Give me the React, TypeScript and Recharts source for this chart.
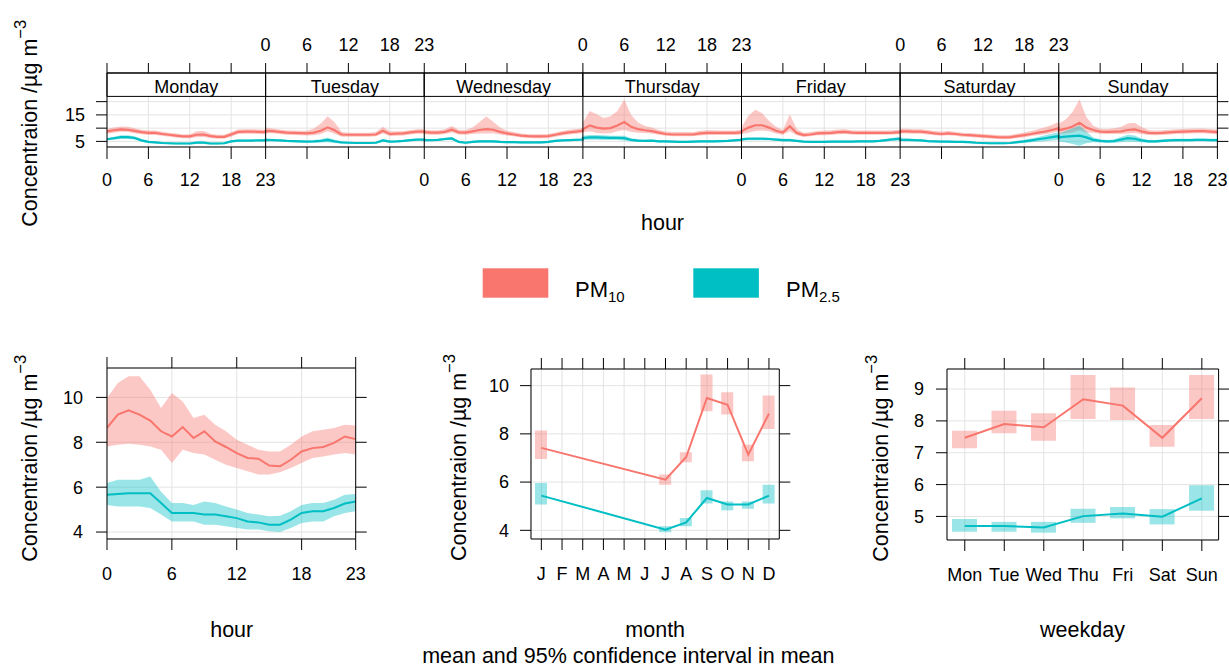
import { ComposedChart, Line, Area, Bar, XAxis, YAxis, CartesianGrid, ReferenceArea, ReferenceLine } from 'recharts';

const FONT = '"Liberation Sans", Arial, Helvetica, sans-serif';
const RED = '#F8766D';
const TEAL = '#00BFC4';
const GRID = '#E3E3E3';

// ---- top panel: hour of day by weekday ----
const days = ['Monday', 'Tuesday', 'Wednesday', 'Thursday', 'Friday', 'Saturday', 'Sunday'];
const hourTicks = [0, 6, 12, 18, 23];

const pm10Day = [
  [8.8, 9.2, 9.5, 9.4, 9.0, 8.5, 8.2, 8.2, 7.8, 7.5, 7.2, 6.9, 6.9, 7.5, 7.6, 7.0, 6.7, 6.7, 7.6, 8.6, 8.7, 8.7, 8.6, 8.5],
  [9.0, 8.9, 8.6, 8.3, 8.2, 8.1, 8.0, 8.3, 9.0, 10.3, 9.2, 7.6, 7.5, 7.5, 7.5, 7.5, 7.6, 9.0, 7.8, 7.9, 8.0, 8.4, 8.7, 8.7],
  [8.5, 8.3, 8.3, 8.6, 9.4, 8.4, 8.3, 8.8, 9.3, 9.6, 9.4, 8.6, 8.0, 7.6, 7.2, 7.0, 6.9, 6.9, 7.0, 7.5, 8.0, 8.4, 8.7, 9.0],
  [9.6, 11.0, 10.2, 9.8, 10.0, 11.0, 12.3, 10.5, 9.6, 9.2, 8.9, 8.3, 7.8, 7.6, 7.6, 7.6, 7.6, 8.0, 8.2, 8.2, 8.2, 8.2, 8.2, 8.4],
  [8.8, 10.2, 11.1, 11.1, 10.2, 9.0, 8.3, 10.7, 8.2, 7.4, 7.6, 8.0, 8.1, 8.2, 8.5, 8.6, 8.3, 8.2, 8.2, 8.2, 8.2, 8.2, 8.3, 8.5],
  [8.8, 8.8, 8.7, 8.7, 8.4, 8.0, 7.8, 8.0, 7.8, 7.5, 7.4, 7.2, 7.0, 6.8, 6.6, 6.5, 6.6, 7.0, 7.4, 7.8, 8.3, 8.7, 9.3, 10.0],
  [9.2, 9.8, 10.6, 12.0, 10.2, 9.3, 8.7, 8.6, 8.7, 8.8, 9.3, 9.5, 8.8, 8.2, 8.1, 8.2, 8.4, 8.6, 8.7, 8.8, 8.9, 8.9, 8.7, 8.5],
];
// distance from mean to upper / lower edge of the 95% band
const pm10DayUp = [
  [1.0, 1.0, 1.1, 1.1, 1.0, 0.9, 0.9, 0.9, 0.8, 0.8, 0.8, 0.7, 0.8, 1.3, 1.3, 0.9, 0.8, 0.8, 0.9, 0.9, 0.9, 0.9, 0.9, 0.9],
  [1.2, 1.0, 0.9, 0.9, 0.9, 0.9, 1.0, 1.6, 2.8, 4.2, 3.0, 1.0, 0.8, 0.8, 0.8, 0.8, 0.9, 1.5, 1.0, 0.9, 0.9, 0.9, 0.9, 0.9],
  [0.9, 0.9, 0.9, 1.0, 1.4, 1.0, 1.0, 1.4, 3.0, 4.8, 3.0, 1.6, 1.0, 0.9, 0.8, 0.8, 0.8, 0.8, 0.8, 0.9, 0.9, 1.0, 1.0, 1.0],
  [2.5, 5.5, 5.0, 4.0, 4.5, 5.5, 8.5, 4.5, 2.5, 1.6, 1.3, 1.0, 0.9, 0.9, 0.9, 0.9, 0.9, 1.0, 1.0, 1.0, 0.9, 0.9, 0.9, 1.0],
  [1.5, 4.5, 5.8, 4.5, 2.5, 1.5, 1.0, 4.5, 1.5, 0.9, 0.9, 0.9, 1.0, 1.0, 1.0, 1.0, 0.9, 0.9, 0.9, 0.9, 0.9, 0.9, 0.9, 0.9],
  [1.0, 1.0, 0.9, 0.9, 0.9, 0.9, 0.9, 0.9, 0.8, 0.8, 0.8, 0.8, 0.8, 0.8, 0.8, 0.8, 0.8, 0.9, 1.0, 1.1, 1.3, 1.6, 1.9, 2.3],
  [2.5, 3.5, 5.5, 8.8, 4.0, 1.6, 1.1, 1.1, 1.3, 1.6, 2.5, 2.5, 1.6, 1.1, 1.0, 1.0, 1.0, 1.0, 1.0, 1.0, 1.0, 1.0, 1.0, 1.0],
];
const pm10DayDn = [
  [0.9, 0.9, 0.9, 0.9, 0.9, 0.8, 0.8, 0.8, 0.7, 0.7, 0.7, 0.7, 0.7, 0.9, 0.9, 0.7, 0.7, 0.7, 0.8, 0.8, 0.8, 0.8, 0.8, 0.8],
  [0.9, 0.8, 0.8, 0.8, 0.8, 0.8, 0.8, 1.0, 1.2, 1.5, 1.3, 0.8, 0.7, 0.7, 0.7, 0.7, 0.7, 1.0, 0.8, 0.8, 0.8, 0.8, 0.8, 0.8],
  [0.8, 0.8, 0.8, 0.8, 1.0, 0.8, 0.8, 1.0, 1.3, 1.6, 1.3, 1.0, 0.8, 0.7, 0.7, 0.7, 0.7, 0.7, 0.7, 0.7, 0.8, 0.8, 0.8, 0.8],
  [1.2, 2.2, 2.0, 1.8, 1.9, 2.2, 3.0, 2.0, 1.3, 1.0, 0.9, 0.8, 0.7, 0.7, 0.7, 0.7, 0.7, 0.8, 0.8, 0.8, 0.8, 0.8, 0.8, 0.8],
  [1.0, 1.9, 2.2, 2.0, 1.4, 1.0, 0.8, 1.9, 0.9, 0.7, 0.7, 0.7, 0.8, 0.8, 0.8, 0.8, 0.7, 0.7, 0.7, 0.7, 0.7, 0.7, 0.7, 0.7],
  [0.8, 0.8, 0.8, 0.8, 0.8, 0.7, 0.7, 0.7, 0.7, 0.7, 0.7, 0.7, 0.7, 0.7, 0.7, 0.7, 0.7, 0.7, 0.8, 0.8, 0.9, 1.0, 1.1, 1.2],
  [1.3, 1.7, 2.2, 2.8, 1.8, 1.0, 0.8, 0.8, 0.9, 1.0, 1.3, 1.3, 1.0, 0.8, 0.8, 0.8, 0.8, 0.8, 0.8, 0.8, 0.8, 0.8, 0.8, 0.8],
];
const pm25Day = [
  [5.8, 6.2, 6.6, 6.6, 6.3, 5.4, 4.8, 4.6, 4.4, 4.3, 4.2, 4.2, 4.2, 4.5, 4.5, 4.2, 4.2, 4.3, 5.0, 5.3, 5.3, 5.3, 5.4, 5.4],
  [5.6, 5.5, 5.4, 5.2, 5.1, 5.0, 4.9, 5.0, 5.2, 5.6, 5.0, 4.6, 4.5, 4.4, 4.4, 4.4, 4.5, 5.4, 4.9, 5.0, 5.2, 5.5, 5.7, 5.7],
  [5.5, 5.5, 5.6, 5.9, 6.1, 4.8, 4.5, 4.8, 5.0, 5.0, 5.0, 4.8, 4.7, 4.7, 4.6, 4.6, 4.6, 4.6, 4.8, 5.2, 5.4, 5.5, 5.6, 5.7],
  [6.3, 6.5, 6.5, 6.4, 6.3, 6.3, 6.2, 5.6, 5.3, 5.2, 5.3, 5.0, 5.0, 4.9, 4.8, 4.8, 4.9, 5.0, 5.0, 5.0, 5.1, 5.2, 5.4, 5.6],
  [5.8, 6.0, 6.0, 6.0, 5.9, 5.7, 5.5, 5.5, 5.2, 4.9, 4.8, 4.8, 4.8, 4.9, 4.9, 4.9, 4.9, 5.0, 5.0, 5.0, 5.2, 5.5, 5.8, 6.0],
  [5.6, 5.6, 5.5, 5.4, 5.1, 5.0, 4.9, 4.9, 4.8, 4.8, 4.7, 4.5, 4.4, 4.3, 4.3, 4.3, 4.4, 4.7, 5.0, 5.4, 5.8, 6.2, 6.6, 7.0],
  [6.5, 6.8, 7.0, 7.2, 6.5, 5.6, 5.2, 5.0, 5.1, 5.7, 6.2, 6.0, 5.4, 5.0, 5.0, 5.2, 5.4, 5.5, 5.5, 5.5, 5.6, 5.6, 5.5, 5.5],
];
const pm25DayCi = [
  [0.5, 0.6, 0.7, 0.7, 0.6, 0.5, 0.4, 0.4, 0.4, 0.4, 0.4, 0.4, 0.4, 0.5, 0.5, 0.4, 0.4, 0.4, 0.4, 0.4, 0.4, 0.4, 0.4, 0.4],
  [0.5, 0.4, 0.4, 0.4, 0.4, 0.4, 0.4, 0.5, 0.6, 0.9, 0.6, 0.4, 0.4, 0.4, 0.4, 0.4, 0.4, 0.6, 0.4, 0.4, 0.4, 0.4, 0.4, 0.4],
  [0.4, 0.4, 0.4, 0.5, 0.6, 0.4, 0.4, 0.4, 0.5, 0.5, 0.5, 0.4, 0.4, 0.4, 0.4, 0.4, 0.4, 0.4, 0.4, 0.4, 0.4, 0.4, 0.4, 0.4],
  [0.8, 0.9, 0.9, 0.9, 0.8, 0.8, 0.9, 0.6, 0.5, 0.4, 0.4, 0.4, 0.4, 0.4, 0.4, 0.4, 0.4, 0.4, 0.4, 0.4, 0.4, 0.4, 0.4, 0.5],
  [0.5, 0.6, 0.6, 0.6, 0.5, 0.5, 0.5, 0.5, 0.4, 0.4, 0.4, 0.4, 0.4, 0.4, 0.4, 0.4, 0.4, 0.4, 0.4, 0.4, 0.4, 0.5, 0.6, 0.7],
  [0.5, 0.5, 0.4, 0.4, 0.4, 0.4, 0.4, 0.4, 0.4, 0.4, 0.4, 0.4, 0.4, 0.4, 0.4, 0.4, 0.4, 0.5, 0.6, 0.7, 0.9, 1.1, 1.3, 1.5],
  [1.5, 2.2, 3.0, 3.8, 2.2, 0.9, 0.6, 0.5, 0.6, 1.0, 1.3, 1.2, 0.7, 0.5, 0.5, 0.5, 0.5, 0.5, 0.5, 0.5, 0.5, 0.5, 0.5, 0.5],
];

// ---- bottom left: hour ----
const hours = [0, 1, 2, 3, 4, 5, 6, 7, 8, 9, 10, 11, 12, 13, 14, 15, 16, 17, 18, 19, 20, 21, 22, 23];
const pm10Hour = [8.64, 9.23, 9.42, 9.23, 8.97, 8.49, 8.26, 8.68, 8.19, 8.49, 8.04, 7.79, 7.52, 7.3, 7.27, 6.96, 6.93, 7.22, 7.59, 7.74, 7.79, 7.97, 8.26, 8.14];
const pm10HourHi = [9.97, 10.64, 10.94, 10.94, 10.34, 9.53, 10.2, 9.82, 9.08, 9.23, 8.78, 8.49, 8.11, 7.89, 7.67, 7.59, 7.59, 7.89, 8.26, 8.49, 8.56, 8.64, 8.78, 8.75];
const pm10HourLo = [7.81, 7.89, 7.93, 7.89, 7.81, 7.67, 7.08, 7.67, 7.52, 7.45, 7.22, 7.0, 6.85, 6.71, 6.56, 6.56, 6.66, 6.85, 7.08, 7.3, 7.37, 7.45, 7.52, 7.45];
const pm25Hour = [5.66, 5.7, 5.73, 5.73, 5.73, 5.29, 4.85, 4.85, 4.85, 4.78, 4.78, 4.7, 4.62, 4.47, 4.43, 4.33, 4.33, 4.55, 4.85, 4.93, 4.93, 5.07, 5.27, 5.36];
const pm25HourHi = [6.18, 6.33, 6.33, 6.33, 6.48, 5.8, 5.29, 5.29, 5.21, 5.36, 5.29, 5.14, 5.0, 4.85, 4.78, 4.7, 4.73, 4.93, 5.21, 5.29, 5.29, 5.44, 5.66, 5.7];
const pm25HourLo = [5.21, 5.14, 5.14, 5.14, 5.07, 4.78, 4.47, 4.47, 4.47, 4.33, 4.33, 4.26, 4.18, 4.11, 4.11, 4.03, 4.0, 4.18, 4.4, 4.47, 4.47, 4.7, 4.85, 4.93];

// ---- bottom middle: month ----
const months = ['Jan', 'Feb', 'Mar', 'Apr', 'May', 'Jun', 'Jul', 'Aug', 'Sep', 'Oct', 'Nov', 'Dec'];
const monthLabels = ['J', 'F', 'M', 'A', 'M', 'J', 'J', 'A', 'S', 'O', 'N', 'D'];
const pm10Month = [7.42, null, null, null, null, null, 6.1, 7.04, 9.49, 9.21, 7.14, 8.84];
const pm10MonthLo = [6.96, null, null, null, null, null, 5.89, 6.82, 8.94, 8.8, 6.86, 8.2];
const pm10MonthHi = [8.14, null, null, null, null, null, 6.31, 7.24, 10.46, 9.73, 7.55, 9.59];
const pm25Month = [5.44, null, null, null, null, null, 4.03, 4.33, 5.34, 5.07, 5.07, 5.44];
const pm25MonthLo = [5.07, null, null, null, null, null, 3.92, 4.17, 5.11, 4.83, 4.89, 5.11];
const pm25MonthHi = [5.96, null, null, null, null, null, 4.17, 4.51, 5.66, 5.2, 5.2, 5.89];

// ---- bottom right: weekday ----
const weekdays = ['Mon', 'Tue', 'Wed', 'Thu', 'Fri', 'Sat', 'Sun'];
const pm10Week = [7.47, 7.9, 7.8, 8.68, 8.48, 7.47, 8.71];
const pm10WeekLo = [7.14, 7.61, 7.38, 8.06, 8.03, 7.19, 8.06];
const pm10WeekHi = [7.69, 8.32, 8.24, 9.44, 9.05, 7.87, 9.44];
const pm25Week = [4.7, 4.7, 4.65, 5.01, 5.09, 4.99, 5.57];
const pm25WeekLo = [4.52, 4.52, 4.49, 4.8, 4.94, 4.75, 5.18];
const pm25WeekHi = [4.92, 4.83, 4.83, 5.24, 5.3, 5.23, 5.98];

const series = [
  { name: 'PM', sub: '10', color: RED },
  { name: 'PM', sub: '2.5', color: TEAL },
];

const topRows = days.flatMap((_, d) =>
  pm10Day[d].map((v, h) => ({
    x: d * 23 + h,
    pm10: v,
    pm10Band: [v - pm10DayDn[d][h], v + pm10DayUp[d][h]],
    pm25: pm25Day[d][h],
    pm25Band: [pm25Day[d][h] - pm25DayCi[d][h], pm25Day[d][h] + pm25DayCi[d][h]],
  }))
);
const topTicks = days.flatMap((_, d) => hourTicks.slice(0, 4).map((h) => d * 23 + h)).concat([days.length * 23]);

const hourRows = hours.map((h, i) => ({
  hour: h,
  pm10: pm10Hour[i],
  pm10Band: [pm10HourLo[i], pm10HourHi[i]],
  pm25: pm25Hour[i],
  pm25Band: [pm25HourLo[i], pm25HourHi[i]],
}));

const monthRows = months.map((m, i) => ({
  month: m,
  pm10: pm10Month[i],
  pm10Box: pm10Month[i] == null ? null : [pm10MonthLo[i], pm10MonthHi[i]],
  pm25: pm25Month[i],
  pm25Box: pm25Month[i] == null ? null : [pm25MonthLo[i], pm25MonthHi[i]],
}));

const weekRows = weekdays.map((w, i) => ({
  day: w,
  pm10: pm10Week[i],
  pm10Box: [pm10WeekLo[i], pm10WeekHi[i]],
  pm25: pm25Week[i],
  pm25Box: [pm25WeekLo[i], pm25WeekHi[i]],
}));

// tick label rules for the day panels (labels alternate bottom / top)
const dayTick = (v: number, bottom: boolean) => {
  const want = bottom ? 0 : 1;
  if (v % 23 === 0) {
    const k = v / 23;
    if (k >= 1 && (k - 1) % 2 === want) return '23';
    if (k <= 6 && k % 2 === want) return '0';
    return '';
  }
  const d = Math.floor(v / 23);
  return d % 2 === want ? String(v - d * 23) : '';
};

const AX = { left: 70, right: 14, top: 40, bottom: 60 };
const M = { top: 10, right: 10, bottom: 10, left: 10 };
const place = (l: number, t: number, r: number, b: number) => ({
  style: { position: 'absolute' as const, left: l - AX.left - 10, top: t - AX.top - 10 },
  width: r - l + AX.left + AX.right + 20,
  height: b - t + AX.top + AX.bottom + 20,
});

const TICK = { fontSize: 18, fill: '#000', fontFamily: FONT };
const LINE = { stroke: '#000', strokeWidth: 1 };
const blank = () => '';

const yTitle = (x: number, y: number) => (
  <text transform={`translate(${x},${y}) rotate(-90)`} textAnchor="middle" fontSize={21.5} fill="#000">
    Concentraion /µg m
    <tspan dy={-11} fontSize={16.5}>−3</tspan>
  </text>
);

const topBox = place(107.3, 73.3, 1217.7, 147.3);
const hourBox = place(107.3, 368.3, 356, 539.3);
const monthBox = place(531, 369.3, 779.3, 539.3);
const weekBox = place(946.7, 369, 1218.3, 540);

const App = () => {
  return (
    <div style={{ position: 'absolute', left: 0, top: 0, width: 1229, height: 668, overflow: 'hidden', background: '#fff', fontFamily: FONT }}>
      <div style={topBox.style}>
        <ComposedChart width={topBox.width} height={topBox.height} data={topRows} margin={M}>
          <CartesianGrid stroke={GRID} />
          <XAxis dataKey="x" type="number" domain={[0, 161]} ticks={topTicks} interval={0} allowDataOverflow
            height={AX.bottom} tickSize={12} tickMargin={14.5} tick={TICK} axisLine={LINE} tickLine={LINE}
            tickFormatter={(v) => dayTick(v, true)} />
          <XAxis xAxisId="top" orientation="top" dataKey="x" type="number" domain={[0, 161]} ticks={topTicks} interval={0} allowDataOverflow
            height={AX.top} tickSize={10} tickMargin={12} tick={TICK} axisLine={LINE} tickLine={LINE}
            tickFormatter={(v) => dayTick(v, false)} />
          <YAxis type="number" domain={[2.887, 30.81]} ticks={[5, 10, 15, 20]} interval={0} allowDataOverflow
            width={AX.left} tickSize={11} tickMargin={11} tick={TICK} axisLine={LINE} tickLine={LINE}
            tickFormatter={(v) => (v === 5 || v === 15 ? String(v) : '')} />
          <YAxis yAxisId="right" orientation="right" type="number" domain={[2.887, 30.81]} ticks={[5, 10, 15, 20]} interval={0} allowDataOverflow
            width={AX.right} tickSize={11} tick={TICK} axisLine={LINE} tickLine={LINE} tickFormatter={blank} />
          {days.map((day, d) => (
            <ReferenceArea key={day} x1={d * 23} x2={d * 23 + 23} y1={21.98} y2={30.81} ifOverflow="visible"
              fill="#fff" fillOpacity={1} stroke="#000" strokeWidth={1}
              label={{ value: day, position: 'center', fontSize: 18, fill: '#000', fontFamily: FONT, dy: 1.5 }} />
          ))}
          <Area dataKey="pm10Band" type="linear" stroke="none" fill={RED} fillOpacity={0.4} isAnimationActive={false} />
          <Area dataKey="pm25Band" type="linear" stroke="none" fill={TEAL} fillOpacity={0.4} isAnimationActive={false} />
          <Line dataKey="pm10" type="linear" stroke={RED} strokeWidth={2.2} dot={false} activeDot={false} isAnimationActive={false} />
          <Line dataKey="pm25" type="linear" stroke={TEAL} strokeWidth={2.2} dot={false} activeDot={false} isAnimationActive={false} />
          {[1, 2, 3, 4, 5, 6].map((k) => (
            <ReferenceLine key={k} x={k * 23} stroke="#000" strokeWidth={1} />
          ))}
        </ComposedChart>
      </div>

      <div style={hourBox.style}>
        <ComposedChart width={hourBox.width} height={hourBox.height} data={hourRows} margin={M}>
          <CartesianGrid stroke={GRID} />
          <XAxis dataKey="hour" type="number" domain={[0, 23]} ticks={hourTicks} interval={0} allowDataOverflow
            height={AX.bottom} tickSize={11} tickMargin={17} tick={TICK} axisLine={LINE} tickLine={LINE} />
          <XAxis xAxisId="top" orientation="top" dataKey="hour" type="number" domain={[0, 23]} ticks={hourTicks} interval={0} allowDataOverflow
            height={AX.top} tickSize={11} tick={TICK} axisLine={LINE} tickLine={LINE} tickFormatter={blank} />
          <YAxis type="number" domain={[3.69, 11.31]} ticks={[4, 6, 8, 10]} interval={0} allowDataOverflow
            width={AX.left} tickSize={11} tickMargin={13} tick={TICK} axisLine={LINE} tickLine={LINE} />
          <YAxis yAxisId="right" orientation="right" type="number" domain={[3.69, 11.31]} ticks={[4, 6, 8, 10]} interval={0} allowDataOverflow
            width={AX.right} tickSize={11} tick={TICK} axisLine={LINE} tickLine={LINE} tickFormatter={blank} />
          <Area dataKey="pm10Band" type="linear" stroke="none" fill={RED} fillOpacity={0.4} isAnimationActive={false} />
          <Area dataKey="pm25Band" type="linear" stroke="none" fill={TEAL} fillOpacity={0.4} isAnimationActive={false} />
          <Line dataKey="pm10" type="linear" stroke={RED} strokeWidth={2} dot={false} activeDot={false} isAnimationActive={false} />
          <Line dataKey="pm25" type="linear" stroke={TEAL} strokeWidth={2} dot={false} activeDot={false} isAnimationActive={false} />
        </ComposedChart>
      </div>

      <div style={monthBox.style}>
        <ComposedChart width={monthBox.width} height={monthBox.height} data={monthRows} margin={M}>
          <CartesianGrid stroke={GRID} />
          <XAxis dataKey="month" type="category" interval={0}
            height={AX.bottom} tickSize={11} tickMargin={17} tick={TICK} axisLine={LINE} tickLine={LINE}
            tickFormatter={(_, i) => monthLabels[i]} />
          <XAxis xAxisId="top" orientation="top" dataKey="month" type="category" interval={0}
            height={AX.top} tickSize={11} tick={TICK} axisLine={LINE} tickLine={LINE} tickFormatter={blank} />
          <YAxis type="number" domain={[3.64, 10.69]} ticks={[4, 6, 8, 10]} interval={0} allowDataOverflow
            width={AX.left} tickSize={11} tickMargin={11} tick={TICK} axisLine={LINE} tickLine={LINE} />
          <YAxis yAxisId="right" orientation="right" type="number" domain={[3.64, 10.69]} ticks={[4, 6, 8, 10]} interval={0} allowDataOverflow
            width={AX.right} tickSize={11} tick={TICK} axisLine={LINE} tickLine={LINE} tickFormatter={blank} />
          <Bar dataKey="pm10Box" barSize={12} fill={RED} fillOpacity={0.4} isAnimationActive={false} />
          <Bar dataKey="pm25Box" xAxisId="top" barSize={12} fill={TEAL} fillOpacity={0.4} isAnimationActive={false} />
          <Line dataKey="pm10" type="linear" connectNulls stroke={RED} strokeWidth={2} dot={false} activeDot={false} isAnimationActive={false} />
          <Line dataKey="pm25" type="linear" connectNulls stroke={TEAL} strokeWidth={2} dot={false} activeDot={false} isAnimationActive={false} />
        </ComposedChart>
      </div>

      <div style={weekBox.style}>
        <ComposedChart width={weekBox.width} height={weekBox.height} data={weekRows} margin={M}>
          <CartesianGrid stroke={GRID} />
          <XAxis dataKey="day" type="category" interval={0} padding={{ left: -2, right: -3 }}
            height={AX.bottom} tickSize={11} tickMargin={17} tick={TICK} axisLine={LINE} tickLine={LINE} />
          <XAxis xAxisId="top" orientation="top" dataKey="day" type="category" interval={0} padding={{ left: -2, right: -3 }}
            height={AX.top} tickSize={11} tick={TICK} axisLine={LINE} tickLine={LINE} tickFormatter={blank} />
          <YAxis type="number" domain={[4.26, 9.63]} ticks={[5, 6, 7, 8, 9]} interval={0} allowDataOverflow
            width={AX.left} tickSize={11} tickMargin={12} tick={TICK} axisLine={LINE} tickLine={LINE} />
          <YAxis yAxisId="right" orientation="right" type="number" domain={[4.26, 9.63]} ticks={[5, 6, 7, 8, 9]} interval={0} allowDataOverflow
            width={AX.right} tickSize={11} tick={TICK} axisLine={LINE} tickLine={LINE} tickFormatter={blank} />
          <Bar dataKey="pm10Box" barSize={25} fill={RED} fillOpacity={0.4} isAnimationActive={false} />
          <Bar dataKey="pm25Box" xAxisId="top" barSize={25} fill={TEAL} fillOpacity={0.4} isAnimationActive={false} />
          <Line dataKey="pm10" type="linear" stroke={RED} strokeWidth={2} dot={false} activeDot={false} isAnimationActive={false} />
          <Line dataKey="pm25" type="linear" stroke={TEAL} strokeWidth={2} dot={false} activeDot={false} isAnimationActive={false} />
        </ComposedChart>
      </div>

      <svg width={1229} height={668} style={{ position: 'absolute', left: 0, top: 0, pointerEvents: 'none' }} fontFamily={FONT}>
        {yTitle(37, 123.3)}
        {yTitle(36.5, 458.3)}
        {yTitle(466, 457.5)}
        {yTitle(888, 458.3)}
        <text x={662.5} y={229.5} textAnchor="middle" fontSize={21.5}>hour</text>
        <text x={231.7} y={637} textAnchor="middle" fontSize={21.5}>hour</text>
        <text x={655.2} y={637} textAnchor="middle" fontSize={21.5}>month</text>
        <text x={1082.5} y={637} textAnchor="middle" fontSize={21.5}>weekday</text>
        <text x={628.3} y={663} textAnchor="middle" fontSize={21.5}>mean and 95% confidence interval in mean</text>
        {series.map((s, i) => (
          <g key={s.sub}>
            <rect x={482.7 + i * 210.6} y={268.3} width={65.6} height={29.4} fill={s.color} />
            <text x={575 + i * 211} y={296.5} fontSize={22}>
              {s.name}
              <tspan dy={5} fontSize={15}>{s.sub}</tspan>
            </text>
          </g>
        ))}
      </svg>
    </div>
  );
};

export default App;
